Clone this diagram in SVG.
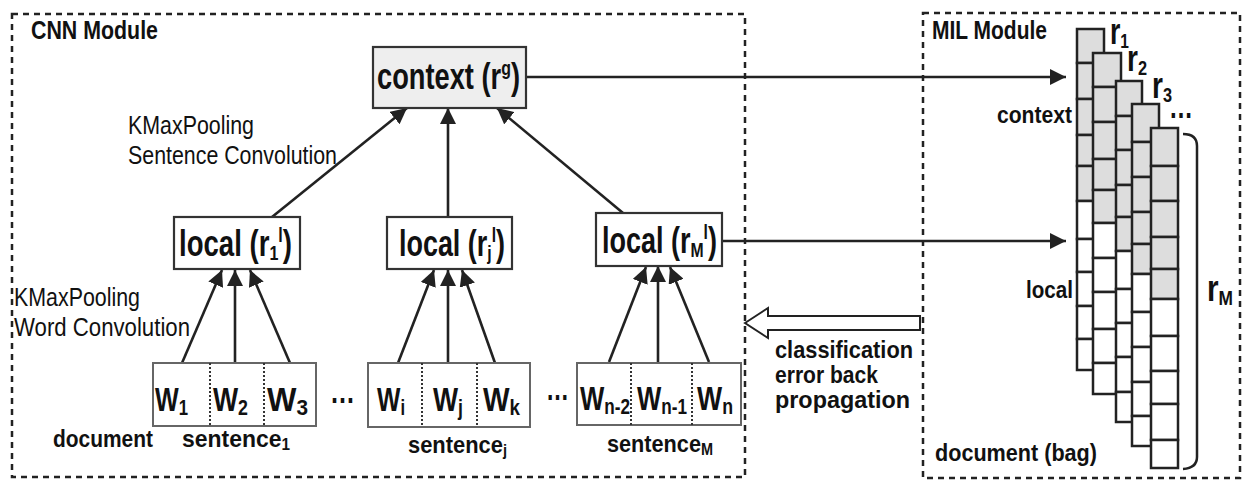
<svg xmlns="http://www.w3.org/2000/svg" width="1242" height="480" viewBox="0 0 1242 480">
<style>
text{font-family:"Liberation Sans",Arial,sans-serif;fill:#111}
.mod{fill:none;stroke:#222;stroke-width:2.5;stroke-dasharray:6 5}
.ctx{fill:#eeeeee;stroke:#333;stroke-width:2.2}
.loc{fill:#fff;stroke:#333;stroke-width:2.2}
.wbox{fill:#fff;stroke:#666;stroke-width:2}
.div{stroke:#333;stroke-width:2;stroke-dasharray:2 2}
.ln{stroke:#222;stroke-width:2.6;fill:none;marker-end:url(#ah)}
.big{font-size:36px;font-weight:bold}
.sm{font-size:21px}
.w{font-size:33px;font-weight:bold}
.ws{font-size:22px}
.lbl{font-size:24px;font-weight:bold}
.modl{font-size:26px;font-weight:bold}
.reg{font-size:26px}
.g{fill:#dddddd;stroke:#222;stroke-width:2.5}
.wc{fill:#ffffff;stroke:#222;stroke-width:2.5}
</style>
<defs>
<marker id="ah" viewBox="0 0 16 16" markerWidth="16" markerHeight="16" refX="16" refY="8" orient="auto" markerUnits="userSpaceOnUse">
<path d="M0,0 L16,8 L0,16 z" fill="#222"/>
</marker>
</defs>

<g id="cnn-module">
<rect class="mod" x="12" y="14" width="733" height="463"/>
<text class="modl" x="31" y="39" textLength="127" lengthAdjust="spacingAndGlyphs">CNN Module</text>
</g>
<g id="mil-module">
<rect class="mod" x="923" y="13" width="317" height="465"/>
<text class="modl" x="932" y="39" textLength="115" lengthAdjust="spacingAndGlyphs">MIL Module</text>
</g>

<g id="connectors">
<line class="ln" x1="272" y1="217" x2="407" y2="108"/>
<line class="ln" x1="448" y1="217" x2="448" y2="108"/>
<line class="ln" x1="623" y1="213" x2="497" y2="108"/>
<line class="ln" x1="182" y1="363" x2="222" y2="270"/>
<line class="ln" x1="235" y1="363" x2="235" y2="270"/>
<line class="ln" x1="290" y1="363" x2="250" y2="270"/>
<line class="ln" x1="398" y1="363" x2="434" y2="270"/>
<line class="ln" x1="448" y1="363" x2="448" y2="270"/>
<line class="ln" x1="495" y1="363" x2="462" y2="270"/>
<line class="ln" x1="609" y1="362" x2="646" y2="267"/>
<line class="ln" x1="658" y1="362" x2="658" y2="266"/>
<line class="ln" x1="709" y1="362" x2="670" y2="267"/>
<line class="ln" x1="526" y1="77" x2="1066" y2="77"/>
<line class="ln" x1="722" y1="241" x2="1066" y2="241"/>
<polygon points="745,323 768,308 768,316 920,316 920,330 768,330 768,338" fill="#fff" stroke="#222" stroke-width="2"/>
</g>

<g id="labels">
<text class="reg" x="128" y="134" textLength="126" lengthAdjust="spacingAndGlyphs">KMaxPooling</text>
<text class="reg" x="128" y="164" textLength="209" lengthAdjust="spacingAndGlyphs">Sentence Convolution</text>
<text class="reg" x="14" y="306" textLength="126" lengthAdjust="spacingAndGlyphs">KMaxPooling</text>
<text class="reg" x="14" y="336" textLength="176" lengthAdjust="spacingAndGlyphs">Word Convolution</text>
<text class="lbl" x="775" y="358" textLength="138" lengthAdjust="spacingAndGlyphs">classification</text>
<text class="lbl" x="775" y="383" textLength="103" lengthAdjust="spacingAndGlyphs">error back</text>
<text class="lbl" x="775" y="408" textLength="135" lengthAdjust="spacingAndGlyphs">propagation</text>
<text class="lbl" x="53" y="447" textLength="100" lengthAdjust="spacingAndGlyphs">document</text>
<text class="lbl" x="182" y="447" textLength="108" lengthAdjust="spacingAndGlyphs">sentence<tspan font-size="16" dy="3">1</tspan></text>
<text class="lbl" x="408" y="453" textLength="99" lengthAdjust="spacingAndGlyphs">sentence<tspan font-size="16" dy="3">j</tspan></text>
<text class="lbl" x="607" y="452" textLength="106" lengthAdjust="spacingAndGlyphs">sentence<tspan font-size="16" dy="3">M</tspan></text>
<text class="w" x="330" y="403" textLength="25" lengthAdjust="spacingAndGlyphs">…</text>
<text class="w" x="546" y="400" textLength="23" lengthAdjust="spacingAndGlyphs">…</text>
</g>

<g id="context">
<rect class="ctx" x="373" y="47" width="153" height="61"/>
<text class="big" x="377" y="89" textLength="143" lengthAdjust="spacingAndGlyphs">context (r<tspan class="sm" dy="-14">g</tspan><tspan dy="14">)</tspan></text>
</g>
<g id="local1">
<rect class="loc" x="174" y="217" width="126" height="52"/>
<text class="big" x="179" y="256" textLength="113" lengthAdjust="spacingAndGlyphs">local (r<tspan class="sm" dy="4">1</tspan><tspan class="sm" font-size="18" dy="-18">l</tspan><tspan dy="14">)</tspan></text>
</g>
<g id="localj">
<rect class="loc" x="387" y="217" width="125" height="52"/>
<text class="big" x="399" y="256" textLength="106" lengthAdjust="spacingAndGlyphs">local (r<tspan class="sm" dy="4">j</tspan><tspan class="sm" font-size="18" dy="-18">l</tspan><tspan dy="14">)</tspan></text>
</g>
<g id="localM">
<rect class="loc" x="596" y="213" width="126" height="53"/>
<text class="big" x="602" y="253" textLength="115" lengthAdjust="spacingAndGlyphs">local (r<tspan class="sm" dy="4">M</tspan><tspan class="sm" font-size="18" dy="-18">l</tspan><tspan dy="14">)</tspan></text>
</g>

<g id="sentence1">
<rect class="wbox" x="153" y="363" width="163" height="63"/>
<line class="div" x1="210" y1="363" x2="210" y2="426"/>
<line class="div" x1="264" y1="363" x2="264" y2="426"/>
<text class="w" x="155" y="411" textLength="33" lengthAdjust="spacingAndGlyphs">W<tspan class="ws" dy="4">1</tspan></text>
<text class="w" x="213" y="411" textLength="35" lengthAdjust="spacingAndGlyphs">W<tspan class="ws" dy="4">2</tspan></text>
<text class="w" x="267" y="411" textLength="41" lengthAdjust="spacingAndGlyphs">W<tspan class="ws" dy="4">3</tspan></text>
</g>
<g id="sentencej">
<rect class="wbox" x="368" y="363" width="162" height="64"/>
<line class="div" x1="422" y1="363" x2="422" y2="427"/>
<line class="div" x1="477" y1="363" x2="477" y2="427"/>
<text class="w" x="377" y="411" textLength="28" lengthAdjust="spacingAndGlyphs">W<tspan class="ws" dy="4">i</tspan></text>
<text class="w" x="433" y="411" textLength="30" lengthAdjust="spacingAndGlyphs">W<tspan class="ws" dy="4">j</tspan></text>
<text class="w" x="483" y="411" textLength="37" lengthAdjust="spacingAndGlyphs">W<tspan class="ws" dy="4">k</tspan></text>
</g>
<g id="sentenceM">
<rect class="wbox" x="577" y="363" width="164" height="62"/>
<line class="div" x1="631" y1="363" x2="631" y2="425"/>
<line class="div" x1="692" y1="363" x2="692" y2="425"/>
<text class="w" x="580" y="410" textLength="50" lengthAdjust="spacingAndGlyphs">W<tspan class="ws" dy="4">n-2</tspan></text>
<text class="w" x="637" y="410" textLength="50" lengthAdjust="spacingAndGlyphs">W<tspan class="ws" dy="4">n-1</tspan></text>
<text class="w" x="697" y="410" textLength="36" lengthAdjust="spacingAndGlyphs">W<tspan class="ws" dy="4">n</tspan></text>
</g>

<g id="bag">
<g id="col1">
<rect class="g" x="1077" y="29" width="27" height="34"/><rect class="g" x="1077" y="63" width="27" height="36"/><rect class="g" x="1077" y="99" width="27" height="36"/><rect class="g" x="1077" y="135" width="27" height="31"/><rect class="g" x="1077" y="166" width="27" height="35"/>
<rect class="wc" x="1077" y="201" width="27" height="38"/><rect class="wc" x="1077" y="239" width="27" height="33"/><rect class="wc" x="1077" y="272" width="27" height="34"/><rect class="wc" x="1077" y="306" width="27" height="33"/><rect class="wc" x="1077" y="339" width="27" height="31"/>
</g>
<g id="col2">
<rect class="g" x="1093" y="53" width="28" height="34"/><rect class="g" x="1093" y="87" width="28" height="35"/><rect class="g" x="1093" y="122" width="28" height="37"/><rect class="g" x="1093" y="159" width="28" height="31"/><rect class="g" x="1093" y="190" width="28" height="33"/>
<rect class="wc" x="1093" y="223" width="28" height="35"/><rect class="wc" x="1093" y="258" width="28" height="34"/><rect class="wc" x="1093" y="292" width="28" height="37"/><rect class="wc" x="1093" y="329" width="28" height="34"/><rect class="wc" x="1093" y="363" width="28" height="31"/>
</g>
<g id="col3">
<rect class="g" x="1116" y="81" width="26" height="35"/><rect class="g" x="1116" y="116" width="26" height="34"/><rect class="g" x="1116" y="150" width="26" height="35"/><rect class="g" x="1116" y="185" width="26" height="32"/><rect class="g" x="1116" y="217" width="26" height="34"/>
<rect class="wc" x="1116" y="251" width="26" height="38"/><rect class="wc" x="1116" y="289" width="26" height="34"/><rect class="wc" x="1116" y="323" width="26" height="34"/><rect class="wc" x="1116" y="357" width="26" height="35"/><rect class="wc" x="1116" y="392" width="26" height="30"/>
</g>
<g id="col4">
<rect class="g" x="1132" y="104" width="27" height="38"/><rect class="g" x="1132" y="142" width="27" height="35"/><rect class="g" x="1132" y="177" width="27" height="35"/><rect class="g" x="1132" y="212" width="27" height="32"/><rect class="g" x="1132" y="244" width="27" height="30"/>
<rect class="wc" x="1132" y="274" width="27" height="38"/><rect class="wc" x="1132" y="312" width="27" height="35"/><rect class="wc" x="1132" y="347" width="27" height="35"/><rect class="wc" x="1132" y="382" width="27" height="34"/><rect class="wc" x="1132" y="416" width="27" height="30"/>
</g>
<g id="col5">
<rect class="g" x="1151" y="128" width="27" height="38"/><rect class="g" x="1151" y="166" width="27" height="35"/><rect class="g" x="1151" y="201" width="27" height="36"/><rect class="g" x="1151" y="237" width="27" height="32"/><rect class="g" x="1151" y="269" width="27" height="30"/>
<rect class="wc" x="1151" y="299" width="27" height="37"/><rect class="wc" x="1151" y="336" width="27" height="35"/><rect class="wc" x="1151" y="371" width="27" height="33"/><rect class="wc" x="1151" y="404" width="27" height="36"/><rect class="wc" x="1151" y="440" width="27" height="28"/>
</g>
<path d="M1183,134 Q1197,134 1197,146 L1197,457 Q1197,468 1183,469" fill="none" stroke="#222" stroke-width="2.5"/>
<text class="big" x="1110" y="44" font-size="32" textLength="19" lengthAdjust="spacingAndGlyphs">r<tspan class="sm" dy="4">1</tspan></text>
<text class="big" x="1127" y="71" font-size="32" textLength="20" lengthAdjust="spacingAndGlyphs">r<tspan class="sm" dy="4">2</tspan></text>
<text class="big" x="1152" y="98" font-size="32" textLength="20" lengthAdjust="spacingAndGlyphs">r<tspan class="sm" dy="4">3</tspan></text>
<text class="w" x="1169" y="118" textLength="24" lengthAdjust="spacingAndGlyphs">…</text>
<text class="lbl" x="997" y="123" textLength="75" lengthAdjust="spacingAndGlyphs">context</text>
<text class="lbl" x="1026" y="298" textLength="47" lengthAdjust="spacingAndGlyphs">local</text>
<text class="big" x="1207" y="301" font-size="34" textLength="26" lengthAdjust="spacingAndGlyphs">r<tspan class="sm" dy="4">M</tspan></text>
<text class="lbl" x="935" y="461" textLength="162" lengthAdjust="spacingAndGlyphs">document (bag)</text>
</g>
</svg>
